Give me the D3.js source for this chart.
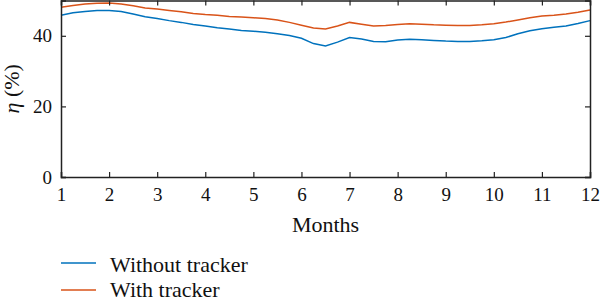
<!DOCTYPE html>
<html>
<head>
<meta charset="utf-8">
<script src="https://cdn.jsdelivr.net/npm/d3@7"></script>
<style>
  body { margin: 0; background: #fff; }
  svg text { font-family: "Liberation Serif", "Times New Roman", Times, "DejaVu Serif", serif !important; }
</style>
</head>
<body>
<div class="chart-container"></div>
<script>
// months sampled every quarter month
const months = [1, 1.25, 1.5, 1.75, 2, 2.25, 2.5, 2.75, 3, 3.25, 3.5, 3.75, 4, 4.25, 4.5, 4.75,
  5, 5.25, 5.5, 5.75, 6, 6.25, 6.5, 6.75, 7, 7.25, 7.5, 7.75, 8, 8.25, 8.5, 8.75,
  9, 9.25, 9.5, 9.75, 10, 10.25, 10.5, 10.75, 11, 11.25, 11.5, 11.75, 12];

const withoutTracker = [45.8, 46.5, 46.9, 47.2, 47.2, 46.9, 46.2, 45.4, 44.9, 44.3, 43.8, 43.2,
  42.8, 42.3, 41.9, 41.5, 41.3, 41.0, 40.6, 40.1, 39.3, 37.8, 37.1, 38.2, 39.5, 39.1, 38.4,
  38.3, 38.8, 39.0, 38.9, 38.7, 38.5, 38.4, 38.4, 38.6, 38.9, 39.5, 40.6, 41.4, 42.0, 42.4,
  42.8, 43.5, 44.3];

const withTracker = [48.1, 48.6, 49.0, 49.2, 49.3, 49.0, 48.5, 47.9, 47.6, 47.2, 46.8, 46.3,
  46.0, 45.8, 45.5, 45.3, 45.1, 44.9, 44.5, 43.8, 43.0, 42.2, 41.9, 42.8, 43.8, 43.3, 42.8,
  42.9, 43.2, 43.4, 43.3, 43.1, 43.0, 42.9, 42.9, 43.1, 43.4, 43.9, 44.5, 45.1, 45.6, 45.8,
  46.2, 46.7, 47.3];

const xTicks = [1, 2, 3, 4, 5, 6, 7, 8, 9, 10, 11, 12];
const yTicks = [0, 20, 40];
const seriesNames = ["Without tracker", "With tracker"];
const seriesColors = ["#0072bd", "#d95319"];

const w = 600;
const h = 299;
const margin = { left: 61, right: 10, top: 0.5, bottom: 122 };

const svg = d3
  .select(".chart-container")
  .append("svg")
  .attr("width", w)
  .attr("height", h)
  .style("display", "block");

const xScale = d3.scaleLinear().domain([1, 12]).range([margin.left, w - margin.right]);
const yScale = d3.scaleLinear().domain([0, 50]).range([h - margin.bottom, margin.top]);

// lines
const line = d3
  .line()
  .x((d, i) => xScale(months[i]))
  .y((d) => yScale(d));

[withoutTracker, withTracker].forEach((s, i) => {
  svg
    .append("path")
    .datum(s)
    .attr("fill", "none")
    .attr("stroke", seriesColors[i])
    .attr("stroke-width", 1.5)
    .attr("d", line);
});

// axes with inward ticks
const tickLen = 5;
const bottomAxis = svg
  .append("g")
  .attr("transform", "translate(0," + yScale(0) + ")")
  .call(d3.axisBottom(xScale).tickValues(xTicks).tickSize(-tickLen).tickPadding(11).tickFormat(d3.format("d")));

const topAxis = svg
  .append("g")
  .attr("transform", "translate(0," + yScale(50) + ")")
  .call(d3.axisTop(xScale).tickValues(xTicks).tickSize(-tickLen).tickFormat(""));

const leftAxis = svg
  .append("g")
  .attr("transform", "translate(" + xScale(1) + ",0)")
  .call(d3.axisLeft(yScale).tickValues(yTicks).tickSize(-tickLen).tickPadding(9));

const rightAxis = svg
  .append("g")
  .attr("transform", "translate(" + xScale(12) + ",0)")
  .call(d3.axisRight(yScale).tickValues(yTicks).tickSize(-tickLen).tickFormat(""));

[bottomAxis, topAxis, leftAxis, rightAxis].forEach((a) => {
  a.attr("font-family", null);
  a.select(".domain").attr("stroke", "#222").attr("stroke-width", 1.5);
  a.selectAll(".tick line").attr("stroke", "#222").attr("stroke-width", 1.2);
  a.selectAll("text").attr("fill", "#111").style("font-size", "19px");
});

// axis titles
svg
  .append("text")
  .attr("x", (xScale(1) + xScale(12)) / 2)
  .attr("y", 232)
  .attr("text-anchor", "middle")
  .style("font-size", "22px")
  .attr("fill", "#111")
  .text("Months");

const yTitle = svg
  .append("text")
  .attr("transform", "translate(19," + (yScale(0) + yScale(50)) / 2 + ") rotate(-90)")
  .attr("text-anchor", "middle")
  .style("font-size", "22px")
  .attr("fill", "#111");
yTitle.append("tspan").style("font-style", "italic").text("η");
yTitle.append("tspan").text(" (%)");

// legend
seriesNames.forEach((name, i) => {
  const y = 263 + i * 27;
  svg
    .append("line")
    .attr("x1", 61)
    .attr("x2", 96)
    .attr("y1", y)
    .attr("y2", y)
    .attr("stroke", seriesColors[i])
    .attr("stroke-width", 1.5);
  svg
    .append("text")
    .attr("x", 110)
    .attr("y", i === 0 ? 272 : 297)
    .style("font-size", "22px")
    .attr("fill", "#111")
    .text(name);
});
</script>
</body>
</html>
